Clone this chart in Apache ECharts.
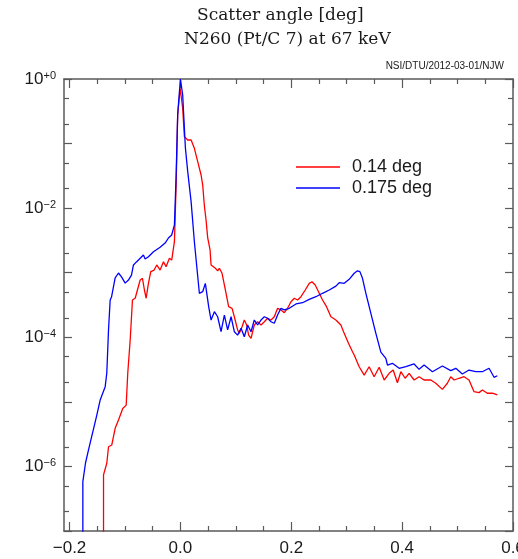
<!DOCTYPE html>
<html>
<head>
<meta charset="utf-8">
<script src="https://cdn.jsdelivr.net/npm/echarts@6/dist/echarts.min.js"></script>
<style>
  html, body { margin: 0; padding: 0; background: #fff; }
  #chart { width: 518px; height: 559px; }
</style>
</head>
<body>
<div id="chart"></div>
<script>
// Scattered intensity versus scatter angle for two beam divergences (log scale)
const seriesNames = ['0.14 deg', '0.175 deg'];
const seriesColors = ['#ff0000', '#0000ff'];

// 0.14 deg divergence
const angle14 = [
  -0.1387, -0.1387, -0.1357, -0.1328, -0.1297, -0.1238, -0.1177, -0.1117, -0.104, -0.0978,
  -0.095, -0.0906, -0.0865, -0.0816, -0.0775, -0.0726, -0.0685, -0.0649, -0.0618, -0.0577,
  -0.0535, -0.0474, -0.0427, -0.0366, -0.0306, -0.0258, -0.0198, -0.0157, -0.0108, -0.0077,
  -0.0049, -0.0005, 0.0005, 0.0013, 0.0041, 0.0072, 0.0132, 0.0193, 0.0222, 0.0252,
  0.0312, 0.0373, 0.0402, 0.0432, 0.0463, 0.0492, 0.0535, 0.0553, 0.0631, 0.0672,
  0.0703, 0.0751, 0.0811, 0.087, 0.0932, 0.0973, 0.1032, 0.1063, 0.1112, 0.1153,
  0.1195, 0.1231, 0.1274, 0.1333, 0.1393, 0.1454, 0.1514, 0.1573, 0.1634, 0.1694,
  0.1753, 0.1814, 0.1874, 0.1933, 0.1995, 0.2054, 0.2114, 0.2175, 0.2252, 0.2324,
  0.2373, 0.2432, 0.2505, 0.2564, 0.2636, 0.2715, 0.2805, 0.2895, 0.2955, 0.3032,
  0.3105, 0.3135, 0.3225, 0.3315, 0.3405, 0.3495, 0.3586, 0.3676, 0.3766, 0.3838,
  0.3915, 0.3977, 0.4054, 0.4126, 0.4216, 0.4306, 0.4396, 0.4517, 0.4607, 0.4726,
  0.4816, 0.4877, 0.4937, 0.5027, 0.5117, 0.5207, 0.5297, 0.5387, 0.5447, 0.5537,
  0.5627, 0.5717
];
const intensity14 = [
  1e-9, 7.4e-7, 7.8e-7, 1.12e-6, 2.02e-6, 2.15e-6, 3.89e-6, 5.24e-6, 7.9e-6, 8.9e-6,
  2.77e-5, 9.1e-5, 3.78e-4, 4.02e-4, 5.4e-4, 7.7e-4, 8.2e-4, 5.4e-4, 4.02e-4, 6.85e-4,
  1.04e-3, 1.1e-3, 1.32e-3, 1.1e-3, 1.48e-3, 1.24e-3, 1.67e-3, 1.57e-3, 3.02e-3, 2.28e-2,
  0.277, 0.72, 0.76, 0.676, 0.352, 0.128, 0.1135, 0.1135, 0.117, 0.0845,
  0.0524, 0.0326, 0.0228, 0.011, 6.5e-3, 3.5e-3, 2.25e-3, 1.32e-3, 1.17e-3, 1.07e-3,
  1.17e-3, 9.8e-4, 5.4e-4, 2.98e-4, 2.81e-4, 2.08e-4, 1.3e-4, 1.15e-4, 1.46e-4, 1.85e-4,
  1.55e-4, 1.08e-4, 9.6e-5, 1.55e-4, 1.74e-4, 1.55e-4, 1.74e-4, 1.97e-4, 1.85e-4, 2.08e-4,
  2.81e-4, 2.65e-4, 2.4e-4, 2.81e-4, 3.56e-4, 4.02e-4, 3.78e-4, 4.25e-4, 5.4e-4, 6.85e-4,
  7.26e-4, 6.45e-4, 4.8e-4, 3.78e-4, 2.98e-4, 2.08e-4, 1.85e-4, 1.55e-4, 1.15e-4, 8.07e-5,
  5.98e-5, 5.32e-5, 3.5e-5, 2.6e-5, 3.5e-5, 2.45e-5, 3.43e-5, 2.18e-5, 2.77e-5, 3.11e-5,
  1.98e-5, 2.93e-5, 2.32e-5, 2.77e-5, 2.18e-5, 2.45e-5, 2.18e-5, 2.18e-5, 1.94e-5, 1.56e-5,
  1.94e-5, 2.45e-5, 2.18e-5, 2.32e-5, 2.45e-5, 2.18e-5, 1.44e-5, 1.39e-5, 1.53e-5, 1.36e-5,
  1.36e-5, 1.28e-5
];

// 0.175 deg divergence
const angle175 = [
  -0.176, -0.176, -0.1712, -0.1658, -0.1508, -0.1447, -0.1357, -0.1328, -0.1297, -0.1267,
  -0.1243, -0.1177, -0.1117, -0.1063, -0.0996, -0.0937, -0.0883, -0.0847, -0.0793, -0.0739,
  -0.0667, -0.0636, -0.0577, -0.0486, -0.0366, -0.0276, -0.0216, -0.0157, -0.0108, -0.0077,
  -0.0049, 0.0, 0.0041, 0.009, 0.0132, 0.0193, 0.0252, 0.0342, 0.0402, 0.045,
  0.051, 0.0553, 0.0613, 0.0672, 0.0733, 0.0793, 0.0852, 0.0914, 0.0973, 0.1032,
  0.1094, 0.1153, 0.1213, 0.1274, 0.1333, 0.1393, 0.1454, 0.1514, 0.1573, 0.1634,
  0.1694, 0.1753, 0.1814, 0.1874, 0.1964, 0.2085, 0.2204, 0.2324, 0.2445, 0.2564,
  0.2685, 0.2805, 0.2865, 0.2955, 0.3045, 0.3135, 0.3195, 0.3238, 0.3285, 0.3346,
  0.3436, 0.3526, 0.3616, 0.3706, 0.3735, 0.3825, 0.3946, 0.4067, 0.4216, 0.4306,
  0.4396, 0.4546, 0.4726, 0.4877, 0.4968, 0.5086, 0.5207, 0.5328, 0.5447, 0.5568,
  0.5658, 0.5717
];
const intensity175 = [
  1e-9, 5.8e-7, 1.13e-6, 1.8e-6, 6.25e-6, 1.07e-5, 1.72e-5, 2.8e-5, 1.3e-4, 3.78e-4,
  4.2e-4, 8.3e-4, 9.9e-4, 8.6e-4, 6.9e-4, 7.7e-4, 9.2e-4, 1.32e-3, 1.47e-3, 1.63e-3,
  1.88e-3, 1.63e-3, 1.77e-3, 2.11e-3, 2.48e-3, 2.88e-3, 3.45e-3, 3.84e-3, 5.5e-3, 3.26e-2,
  0.287, 1.0, 0.565, 0.0854, 0.0367, 0.0126, 3.02e-3, 4.8e-4, 5.08e-4, 6.85e-4,
  2.98e-4, 1.85e-4, 2.49e-4, 2.08e-4, 1.22e-4, 2.21e-4, 1.3e-4, 2.08e-4, 1.22e-4, 1.08e-4,
  1.38e-4, 1.02e-4, 1.55e-4, 1.22e-4, 1.85e-4, 1.55e-4, 1.85e-4, 2.08e-4, 1.97e-4, 1.74e-4,
  1.65e-4, 2.21e-4, 2.81e-4, 2.65e-4, 2.81e-4, 3.28e-4, 3.43e-4, 3.87e-4, 4.25e-4, 4.8e-4,
  5.4e-4, 6.2e-4, 7.0e-4, 6.85e-4, 7.9e-4, 9.8e-4, 1.07e-3, 1.04e-3, 8.2e-4, 4.8e-4,
  2.35e-4, 1.15e-4, 5.9e-5, 4.7e-5, 3.72e-5, 3.95e-5, 3.31e-5, 3.5e-5, 3.86e-5, 3.19e-5,
  3.72e-5, 2.93e-5, 3.59e-5, 3.04e-5, 3.31e-5, 2.7e-5, 3.11e-5, 2.93e-5, 2.93e-5, 3.31e-5,
  2.4e-5, 2.54e-5
];

// Axis ticks
const xLabelTicks = [-0.2, 0.0, 0.2, 0.4, 0.6];
const xMinorTicks = [-0.15, -0.1, -0.05, 0.05, 0.1, 0.15, 0.25, 0.3, 0.35, 0.45, 0.5, 0.55];
const yDecadeTicks = [1e-7, 1e-6, 1e-5, 1e-4, 1e-3, 1e-2, 1e-1, 1];
const yLabelTicks = [1e-6, 1e-4, 1e-2, 1];
const yMinorTicks = [2e-7, 5e-7, 2e-6, 5e-6, 2e-5, 5e-5, 2e-4, 5e-4, 2e-3, 5e-3, 2e-2, 5e-2, 2e-1, 5e-1];

const X_MIN = -0.21, X_MAX = 0.6;
const Y_MIN = 1e-7, Y_MAX = 1;
const frameColor = '#5a5a5a';
const textColor = '#1a1a1a';
const sansFont = '"Liberation Sans", Arial, Helvetica, sans-serif';
const serifFont = '"DejaVu Serif", serif';

function zip(xs, ys) { return xs.map((x, i) => [x, ys[i]]); }

function xAxisDef(position, tickValues, tickLength, withLabels, withLine) {
  return {
    type: 'value', position: position, min: X_MIN, max: X_MAX,
    axisLine: { show: withLine, onZero: false, lineStyle: { color: frameColor, width: 1.5 } },
    axisTick: { show: true, inside: true, length: tickLength, customValues: tickValues,
                lineStyle: { color: frameColor, width: 1.2 } },
    axisLabel: withLabels ? {
      show: true, customValues: xLabelTicks, margin: 9,
      color: textColor, fontFamily: sansFont, fontSize: 17,
      formatter: v => (v < 0 ? '\u2212' : '') + Math.abs(v).toFixed(1)
    } : { show: false },
    splitLine: { show: false }
  };
}

function expLabel(v) {
  const e = v > 0 ? Math.round(Math.log10(v)) : Math.round(v);
  const sup = e === 0 ? '+0' : (e < 0 ? '\u2212' : '+') + Math.abs(e);
  return '{b|10}{s|' + sup + '}';
}

function yAxisDef(position, tickValues, tickLength, withLabels, withLine) {
  return {
    type: 'log', logBase: 10, position: position, min: Y_MIN, max: Y_MAX,
    axisLine: { show: withLine, onZero: false, lineStyle: { color: frameColor, width: 1.5 } },
    axisTick: { show: true, inside: true, length: tickLength, customValues: tickValues,
                lineStyle: { color: frameColor, width: 1.2 } },
    axisLabel: withLabels ? {
      show: true, customValues: yLabelTicks, margin: 8,
      formatter: expLabel,
      rich: {
        b: { fontFamily: sansFont, fontSize: 17, color: textColor, lineHeight: 18 },
        s: { fontFamily: sansFont, fontSize: 11, color: textColor, lineHeight: 11, verticalAlign: 'top' }
      }
    } : { show: false },
    splitLine: { show: false }
  };
}

const chart = echarts.init(document.getElementById('chart'), null, { renderer: 'canvas' });

chart.setOption({
  animation: false,
  backgroundColor: '#ffffff',
  title: [
    {
      text: 'Scatter angle [deg]', left: 197, top: 7, padding: 0,
      textStyle: { fontFamily: serifFont, fontSize: 17, fontWeight: 'normal', color: textColor }
    },
    {
      text: 'N260 (Pt/C 7) at 67 keV', left: 184, top: 31, padding: 0,
      textStyle: { fontFamily: serifFont, fontSize: 17, fontWeight: 'normal', color: textColor }
    },
    {
      text: 'NSI/DTU/2012-03-01/NJW', right: 14, top: 61, padding: 0,
      textStyle: { fontFamily: sansFont, fontSize: 10, fontWeight: 'normal', color: textColor }
    }
  ],
  legend: {
    orient: 'vertical', left: 296, top: 158, padding: 0,
    itemWidth: 44, itemHeight: 1.3, itemGap: 3, icon: 'rect',
    textStyle: { fontFamily: sansFont, fontSize: 18, color: textColor, padding: [0, 0, 0, 7] },
    data: seriesNames
  },
  grid: { left: 64, right: 5, top: 79, bottom: 28, containLabel: false, outerBoundsMode: 'none' },
  xAxis: [
    xAxisDef('bottom', xLabelTicks, 9, true, true),
    xAxisDef('bottom', xMinorTicks, 5, false, false),
    xAxisDef('top', xLabelTicks, 9, false, true),
    xAxisDef('top', xMinorTicks, 5, false, false)
  ],
  yAxis: [
    yAxisDef('left', yDecadeTicks, 8, true, true),
    yAxisDef('left', yMinorTicks, 5, false, false),
    yAxisDef('right', yDecadeTicks, 8, false, true),
    yAxisDef('right', yMinorTicks, 5, false, false)
  ],
  series: [
    {
      name: seriesNames[0], type: 'line', xAxisIndex: 0, yAxisIndex: 0,
      data: zip(angle14, intensity14), showSymbol: false, symbol: 'none',
      lineStyle: { color: seriesColors[0], width: 1.3 }, itemStyle: { color: seriesColors[0] },
      clip: true
    },
    {
      name: seriesNames[1], type: 'line', xAxisIndex: 0, yAxisIndex: 0,
      data: zip(angle175, intensity175), showSymbol: false, symbol: 'none',
      lineStyle: { color: seriesColors[1], width: 1.3 }, itemStyle: { color: seriesColors[1] },
      clip: true
    }
  ]
});
</script>
</body>
</html>
